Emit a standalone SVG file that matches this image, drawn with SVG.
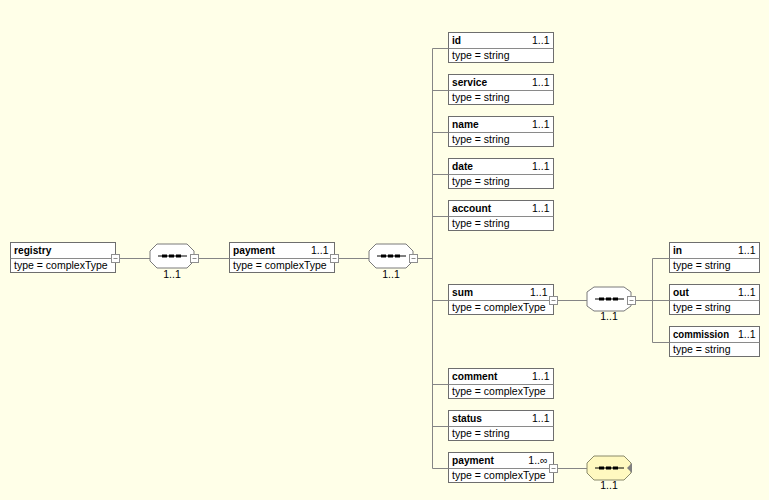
<svg xmlns="http://www.w3.org/2000/svg" width="769" height="500" viewBox="0 0 769 500">
<style>
.bg{fill:#FFFFE8}
.box{fill:#FFFFFF;stroke:#6E6E6E;stroke-width:1}
.div{stroke:#8A8A8A;stroke-width:1}
.con{stroke:#858585;stroke-width:1;fill:none}
.mb{fill:#FFFFFF;stroke:#8E8E8E;stroke-width:1}
.ml{stroke:#8E8E8E;stroke-width:1}
.oct{fill:#FFFFFF;stroke:#7A7A7A;stroke-width:1}
.octy{fill:#FFF9C0;stroke:#8A8A6A;stroke-width:1}
.dl{stroke:#000000;stroke-width:1}
.blk{fill:#000000}
text{font-family:"Liberation Sans",Arial,sans-serif;font-size:10.5px;fill:#000000}
.nm{font-weight:bold;font-size:10.2px}
.mu{text-anchor:end}
.oc{text-anchor:middle}
</style>
<defs>
<g id="minus"><rect class="mb" x="0" y="0" width="8" height="8"/><line class="ml" x1="2" y1="4" x2="6" y2="4"/></g>
<g id="seq"><line class="dl" x1="8" y1="0" x2="37" y2="0"/><rect class="blk" x="12" y="-1.5" width="5" height="3"/><rect class="blk" x="19" y="-1.5" width="5" height="3"/><rect class="blk" x="26" y="-1.5" width="5" height="3"/></g>
</defs>
<rect class="bg" x="0" y="0" width="769" height="500"/>

<g id="connectors">
<line class="con" x1="119.5" y1="258.5" x2="150" y2="258.5"/>
<line class="con" x1="198.5" y1="258.5" x2="229.5" y2="258.5"/>
<line class="con" x1="338.5" y1="258.5" x2="369" y2="258.5"/>
<line class="con" x1="417.5" y1="258.5" x2="432.5" y2="258.5"/>
<line class="con" x1="432.5" y1="48.5" x2="432.5" y2="468.5"/>
<line class="con" x1="432.5" y1="48.5" x2="448.5" y2="48.5"/>
<line class="con" x1="432.5" y1="90.5" x2="448.5" y2="90.5"/>
<line class="con" x1="432.5" y1="132.5" x2="448.5" y2="132.5"/>
<line class="con" x1="432.5" y1="174.5" x2="448.5" y2="174.5"/>
<line class="con" x1="432.5" y1="216.5" x2="448.5" y2="216.5"/>
<line class="con" x1="432.5" y1="300.5" x2="448.5" y2="300.5"/>
<line class="con" x1="432.5" y1="384.5" x2="448.5" y2="384.5"/>
<line class="con" x1="432.5" y1="426.5" x2="448.5" y2="426.5"/>
<line class="con" x1="432.5" y1="468.5" x2="448.5" y2="468.5"/>
<line class="con" x1="557.5" y1="300.5" x2="587" y2="300.5"/>
<line class="con" x1="635.5" y1="300.5" x2="652.5" y2="300.5"/>
<line class="con" x1="652.5" y1="258.5" x2="652.5" y2="342.5"/>
<line class="con" x1="652.5" y1="258.5" x2="669.5" y2="258.5"/>
<line class="con" x1="652.5" y1="342.5" x2="669.5" y2="342.5"/>
<line class="con" x1="652.5" y1="300.5" x2="669.5" y2="300.5"/>
<line class="con" x1="557.5" y1="468.5" x2="587" y2="468.5"/>
</g>

<g id="registry">
<rect class="box" x="10.5" y="242.5" width="105" height="30"/>
<line class="div" x1="10.5" y1="258.5" x2="115.5" y2="258.5"/>
<text class="nm" x="14" y="254">registry</text>
<text x="14" y="269">type = complexType</text>
<use href="#minus" x="111.5" y="254.5"/>
</g>

<g id="seq1">
<polygon class="oct" points="150,251 157,244 187,244 194,251 194,261 187,268 157,268 150,261"/>
<use href="#seq" x="150" y="256"/>
<use href="#minus" x="190.5" y="254.5"/>
<text class="oc" x="172" y="278">1..1</text>
</g>

<g id="payment">
<rect class="box" x="229.5" y="242.5" width="105" height="30"/>
<line class="div" x1="229.5" y1="258.5" x2="334.5" y2="258.5"/>
<text class="nm" x="233" y="254">payment</text>
<text class="mu" x="328.5" y="254">1..1</text>
<text x="233" y="269">type = complexType</text>
<use href="#minus" x="330.5" y="254.5"/>
</g>

<g id="seq2">
<polygon class="oct" points="369,251 376,244 406,244 413,251 413,261 406,268 376,268 369,261"/>
<use href="#seq" x="369" y="256"/>
<use href="#minus" x="409.5" y="254.5"/>
<text class="oc" x="391" y="278">1..1</text>
</g>

<g id="id">
<rect class="box" x="448.5" y="32.5" width="105" height="30"/>
<line class="div" x1="448.5" y1="48.5" x2="553.5" y2="48.5"/>
<text class="nm" x="452" y="44">id</text>
<text class="mu" x="549.5" y="44">1..1</text>
<text x="452" y="59">type = string</text>
</g>

<g id="service">
<rect class="box" x="448.5" y="74.5" width="105" height="30"/>
<line class="div" x1="448.5" y1="90.5" x2="553.5" y2="90.5"/>
<text class="nm" x="452" y="86">service</text>
<text class="mu" x="549.5" y="86">1..1</text>
<text x="452" y="101">type = string</text>
</g>

<g id="name">
<rect class="box" x="448.5" y="116.5" width="105" height="30"/>
<line class="div" x1="448.5" y1="132.5" x2="553.5" y2="132.5"/>
<text class="nm" x="452" y="128">name</text>
<text class="mu" x="549.5" y="128">1..1</text>
<text x="452" y="143">type = string</text>
</g>

<g id="date">
<rect class="box" x="448.5" y="158.5" width="105" height="30"/>
<line class="div" x1="448.5" y1="174.5" x2="553.5" y2="174.5"/>
<text class="nm" x="452" y="170">date</text>
<text class="mu" x="549.5" y="170">1..1</text>
<text x="452" y="185">type = string</text>
</g>

<g id="account">
<rect class="box" x="448.5" y="200.5" width="105" height="30"/>
<line class="div" x1="448.5" y1="216.5" x2="553.5" y2="216.5"/>
<text class="nm" x="452" y="212">account</text>
<text class="mu" x="549.5" y="212">1..1</text>
<text x="452" y="227">type = string</text>
</g>

<g id="sum">
<rect class="box" x="448.5" y="284.5" width="105" height="30"/>
<line class="div" x1="448.5" y1="300.5" x2="553.5" y2="300.5"/>
<text class="nm" x="452" y="296">sum</text>
<text class="mu" x="547.5" y="296">1..1</text>
<text x="452" y="311">type = complexType</text>
<use href="#minus" x="549.5" y="296.5"/>
</g>

<g id="seq3">
<polygon class="oct" points="587,292 594,287 624,287 631,292 631,306 624,311 594,311 587,306"/>
<use href="#seq" x="587" y="299"/>
<use href="#minus" x="627.5" y="296.5"/>
<text class="oc" x="609" y="320">1..1</text>
</g>

<g id="in">
<rect class="box" x="669.5" y="242.5" width="90" height="30"/>
<line class="div" x1="669.5" y1="258.5" x2="759.5" y2="258.5"/>
<text class="nm" x="673" y="254">in</text>
<text class="mu" x="755.5" y="254">1..1</text>
<text x="673" y="269">type = string</text>
</g>

<g id="out">
<rect class="box" x="669.5" y="284.5" width="90" height="30"/>
<line class="div" x1="669.5" y1="300.5" x2="759.5" y2="300.5"/>
<text class="nm" x="673" y="296">out</text>
<text class="mu" x="755.5" y="296">1..1</text>
<text x="673" y="311">type = string</text>
</g>

<g id="commission">
<rect class="box" x="669.5" y="326.5" width="90" height="30"/>
<line class="div" x1="669.5" y1="342.5" x2="759.5" y2="342.5"/>
<text class="nm" x="673" y="338" textLength="56" lengthAdjust="spacingAndGlyphs">commission</text>
<text class="mu" x="755.5" y="338">1..1</text>
<text x="673" y="353">type = string</text>
</g>

<g id="comment">
<rect class="box" x="448.5" y="368.5" width="105" height="30"/>
<line class="div" x1="448.5" y1="384.5" x2="553.5" y2="384.5"/>
<text class="nm" x="452" y="380">comment</text>
<text class="mu" x="549.5" y="380">1..1</text>
<text x="452" y="395">type = complexType</text>
</g>

<g id="status">
<rect class="box" x="448.5" y="410.5" width="105" height="30"/>
<line class="div" x1="448.5" y1="426.5" x2="553.5" y2="426.5"/>
<text class="nm" x="452" y="422">status</text>
<text class="mu" x="549.5" y="422">1..1</text>
<text x="452" y="437">type = string</text>
</g>

<g id="payment2">
<rect class="box" x="448.5" y="452.5" width="105" height="30"/>
<line class="div" x1="448.5" y1="468.5" x2="553.5" y2="468.5"/>
<text class="nm" x="452" y="464">payment</text>
<text class="mu" x="547.5" y="464">1..∞</text>
<text x="452" y="479">type = complexType</text>
<use href="#minus" x="549.5" y="464.5"/>
</g>

<g id="seq4">
<polygon class="octy" points="587,463 594,456 624,456 631,463 631,473 624,480 594,480 587,473"/>
<use href="#seq" x="587" y="468"/>
<polygon fill="#808080" points="627,468 632,463 632,473"/>
<text class="oc" x="609" y="489">1..1</text>
</g>
</svg>
